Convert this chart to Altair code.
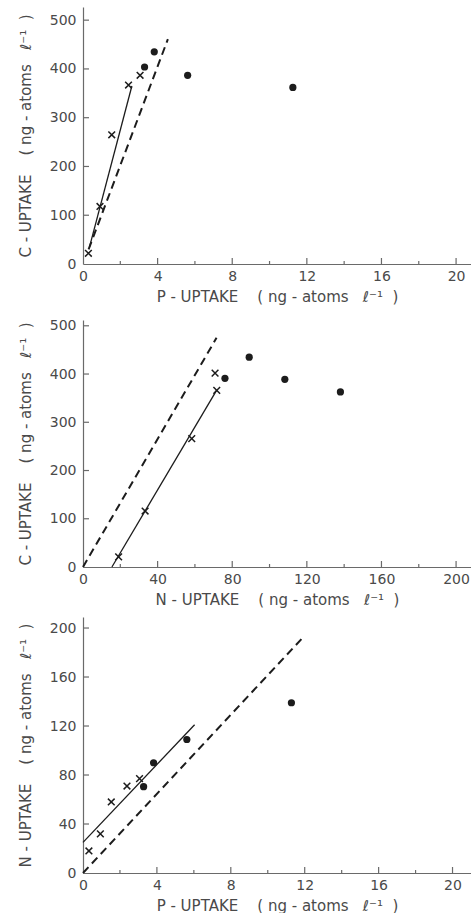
import altair as alt
import pandas as pd

# ---------- Panel 1: C-uptake vs P-uptake ----------
p1_cross_x = [0.29, 0.91, 1.54, 2.44, 3.06]
p1_cross_y = [22, 118, 265, 367, 387]
p1_dot_x = [3.3, 3.82, 5.61, 11.25]
p1_dot_y = [404, 435, 387, 362]
p1_solid_x = [0.35, 2.62]
p1_solid_y = [35, 365]
p1_dash_x = [0.3, 4.55]
p1_dash_y = [30, 461]

# ---------- Panel 2: C-uptake vs N-uptake ----------
p2_cross_x = [19.1, 33.3, 58.3, 70.8, 71.7]
p2_cross_y = [21, 116, 266, 402, 366]
p2_dot_x = [76.1, 89.1, 108.2, 138.0]
p2_dot_y = [391, 435, 389, 363]
p2_solid_x = [15.5, 71.6]
p2_solid_y = [0, 366]
p2_dash_x = [0, 71.6]
p2_dash_y = [0, 475]

# ---------- Panel 3: N-uptake vs P-uptake ----------
p3_cross_x = [0.32, 0.94, 1.53, 2.38, 3.06]
p3_cross_y = [18, 32, 58, 71, 77]
p3_dot_x = [3.28, 3.82, 5.62, 11.28]
p3_dot_y = [70.5, 90, 109, 139]
p3_solid_x = [0, 6.04]
p3_solid_y = [25, 121]
p3_dash_x = [0, 11.98]
p3_dash_y = [0, 193.5]

# ---------- axis tick values ----------
p_major = [0, 4, 8, 12, 16, 20]
p_minor = [2, 6, 10, 14, 18]
n_major = [0, 40, 80, 120, 160, 200]
n_minor = [20, 60, 100, 140, 180]
c_major = [0, 100, 200, 300, 400, 500]
n_y_major = [0, 40, 80, 120, 160, 200]

S = "\u00a0"


def uptake_title(el):
    return (el + S + "-" + S + "UPTAKE" + S * 4 + "(" + S + "ng" + S + "-" + S
            + "atoms" + S * 3 + "ℓ⁻¹" + S * 2 + ")")


P_TITLE = uptake_title("P")
N_TITLE = uptake_title("N")
C_TITLE = uptake_title("C")

INK = "#1c1c1c"
TXT = "#4a4a4a"
AX = "#6a6a6a"
FONT = "DejaVu Sans"
W = 388
X_SHAPE = "M-1,-1L1,1M-1,1L1,-1"


def axis(vals, title, orient):
    return alt.Axis(
        values=vals, title=title, ticks=False, grid=False,
        domainColor=AX, domainWidth=1.2,
        labelFont=FONT, labelFontSize=14, labelColor=TXT,
        labelPadding=5 if orient == "x" else 7,
        titleFont=FONT, titleFontSize=15, titleFontWeight="normal",
        titleColor=TXT, titlePadding=6 if orient == "x" else 16,
        labelFlush=False, labelOverlap=False,
    )


def panel(cx, cy, dx, dy, sx, sy, ddx, ddy, xdom, ydom, xmaj, xmin, ymaj,
          xtitle, ytitle, H):
    xs = alt.Scale(domain=xdom, nice=False, zero=False)
    ys = alt.Scale(domain=ydom, nice=False, zero=False)
    X = lambda: alt.X("x:Q", scale=xs, axis=axis(xmaj, xtitle, "x"))
    Y = lambda: alt.Y("y:Q", scale=ys, axis=axis(ymaj, ytitle, "y"))

    cross = alt.Chart(pd.DataFrame({"x": cx, "y": cy})).mark_point(
        shape=X_SHAPE, size=45, filled=False, strokeWidth=1.5, color=INK, opacity=1
    ).encode(x=X(), y=Y())
    dots = alt.Chart(pd.DataFrame({"x": dx, "y": dy})).mark_circle(
        size=52, color=INK, opacity=1
    ).encode(x=X(), y=Y())
    solid = alt.Chart(pd.DataFrame({"x": sx, "y": sy})).mark_line(
        color=INK, strokeWidth=1.3
    ).encode(x=X(), y=Y())
    dash = alt.Chart(pd.DataFrame({"x": ddx, "y": ddy})).mark_line(
        color=INK, strokeWidth=2, strokeDash=[8, 5]
    ).encode(x=X(), y=Y())
    xt_major = alt.Chart(pd.DataFrame({"x": xmaj[1:]})).mark_rule(
        color=AX, strokeWidth=1.2
    ).encode(x=X(), y=alt.value(H), y2=alt.value(H - 6))
    xt_minor = alt.Chart(pd.DataFrame({"x": xmin})).mark_rule(
        color=AX, strokeWidth=1.2
    ).encode(x=X(), y=alt.value(H), y2=alt.value(H - 3))
    yt = alt.Chart(pd.DataFrame({"y": ymaj[1:]})).mark_rule(
        color=AX, strokeWidth=1.2
    ).encode(y=Y(), x=alt.value(0), x2=alt.value(6))
    return alt.layer(xt_major, xt_minor, yt, solid, dash, cross, dots).properties(
        width=W, height=H
    )


c1 = panel(p1_cross_x, p1_cross_y, p1_dot_x, p1_dot_y, p1_solid_x, p1_solid_y,
           p1_dash_x, p1_dash_y, [0, 20.8], [0, 527], p_major, p_minor, c_major,
           P_TITLE, C_TITLE, 257)
c2 = panel(p2_cross_x, p2_cross_y, p2_dot_x, p2_dot_y, p2_solid_x, p2_solid_y,
           p2_dash_x, p2_dash_y, [0, 208], [0, 512], n_major, n_minor, c_major,
           N_TITLE, C_TITLE, 247)
c3 = panel(p3_cross_x, p3_cross_y, p3_dot_x, p3_dot_y, p3_solid_x, p3_solid_y,
           p3_dash_x, p3_dash_y, [0, 21.0], [0, 209], p_major, p_minor, n_y_major,
           P_TITLE, N_TITLE, 256)

upper = alt.vconcat(c1, c2, spacing=14)
chart = alt.vconcat(upper, c3, spacing=10).properties(
    padding={"left": 18, "top": 7, "right": 0, "bottom": 0}
).configure(background="white").configure_view(stroke=None)

chart.save("out.html", embed_options={"renderer": "svg", "actions": False})
